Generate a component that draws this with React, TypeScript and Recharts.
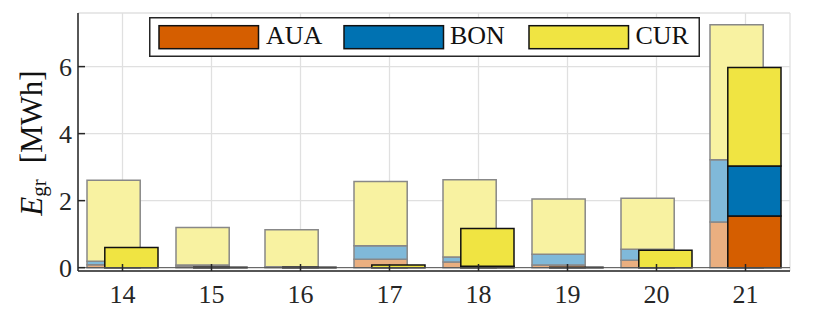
import React from 'react';
import { BarChart, Bar, XAxis, YAxis, CartesianGrid, Legend, ReferenceLine } from 'recharts';

const categories = ['14', '15', '16', '17', '18', '19', '20', '21'];
const seriesNames = ['AUA', 'BON', 'CUR'];
const seriesColors = ['#D55E00', '#0072B2', '#F0E442'];
const fadedColors = ['#EAAF80', '#80B9D9', '#F8F2A1'];

// wide, faded (background) stack
const fadedAUA = [0.09, 0.05, 0.01, 0.25, 0.17, 0.08, 0.22, 1.36];
const fadedBON = [0.1, 0.03, 0.02, 0.4, 0.15, 0.32, 0.33, 1.86];
const fadedCUR = [2.42, 1.12, 1.1, 1.92, 2.3, 1.65, 1.52, 4.03];
// front (saturated) stack
const brightAUA = [0, 0, 0, 0, 0.02, 0, 0, 1.54];
const brightBON = [0, 0, 0, 0, 0.02, 0, 0, 1.49];
const brightCUR = [0.6, 0.01, 0.01, 0.08, 1.13, 0.01, 0.52, 2.94];

const yTicks = [0, 2, 4, 6];
const yDomain = [-0.1, 7.6];

const data = categories.map((c, i) => ({
  cat: c,
  fAUA: fadedAUA[i],
  fBON: fadedBON[i],
  fCUR: fadedCUR[i],
  bAUA: brightAUA[i],
  bBON: brightBON[i],
  bCUR: brightCUR[i],
}));

const FONT = "'Liberation Serif', 'Times New Roman', serif";
const AX = '#262626';

const LegendBox = () => {
  const swX = [10, 195, 380];
  const txX = [117, 301, 486.5];
  return (
    <svg width={552} height={41} style={{ display: 'block' }}>
      <rect x={0.75} y={0.75} width={549.5} height={38.5} fill="#fff" stroke={AX} strokeWidth={1.5} />
      {seriesNames.map((n, i) => (
        <g key={n}>
          <rect x={swX[i]} y={8.7} width={99.5} height={23} fill={seriesColors[i]} stroke="#111" strokeWidth={1.5} />
          <text x={txX[i]} y={26.7} style={{ fontFamily: FONT, fontSize: 26 }} fill="#111">
            {n}
          </text>
        </g>
      ))}
    </svg>
  );
};

const YLabel = () => (
  <text
    transform="rotate(-90, 42, 143)"
    x={42}
    y={143}
    textAnchor="middle"
    style={{ fontFamily: FONT, fontSize: 31 }}
    fill="#111"
  >
    <tspan fontStyle="italic">E</tspan>
    <tspan style={{ fontSize: 21 }} dy={4}>gr</tspan>
    <tspan dy={-4} dx={16}>[MWh]</tspan>
  </text>
);

const XTick = (props: any) => {
  const { x, y, payload } = props;
  return (
    <text x={x} y={y + 18.5} textAnchor="middle" style={{ fontFamily: FONT, fontSize: 26 }} fill={AX}>
      {payload.value}
    </text>
  );
};

const YTick = (props: any) => {
  const { x, y, payload } = props;
  return (
    <text x={x} y={y + 9} textAnchor="end" style={{ fontFamily: FONT, fontSize: 26 }} fill={AX}>
      {payload.value}
    </text>
  );
};

const EmptyTick = () => <g />;

export default function App() {
  return (
    <div style={{ position: 'absolute', left: 0, top: 0 }}>
      <BarChart
        width={830}
        height={326}
        data={data}
        margin={{ top: 13, right: 40, bottom: 15, left: 0 }}
        barSize={53.2}
        barGap={-35.4}
      >
        <CartesianGrid stroke="#e0e0e0" strokeWidth={1.3} />
        <XAxis
          dataKey="cat"
          height={40}
          stroke={AX}
          strokeWidth={1.5}
          tickSize={-7}
          tickMargin={20}
          tick={<XTick />}
        />
        <XAxis
          xAxisId="top"
          dataKey="cat"
          orientation="top"
          height={0}
          stroke={AX}
          strokeWidth={1.5}
          tickSize={-7}
          tick={<EmptyTick />}
        />
        <YAxis
          width={78}
          type="number"
          domain={yDomain}
          ticks={yTicks}
          allowDataOverflow
          stroke={AX}
          strokeWidth={1.5}
          tickSize={-7}
          tickMargin={13}
          tick={<YTick />}
          label={<YLabel />}
        />
        <YAxis
          yAxisId="right"
          orientation="right"
          width={0}
          type="number"
          domain={yDomain}
          ticks={yTicks}
          allowDataOverflow
          stroke={AX}
          strokeWidth={1.5}
          tickSize={-7}
          tick={<EmptyTick />}
        />
        <Legend
          layout="horizontal"
          verticalAlign="middle"
          align="center"
          wrapperStyle={{ left: 149, top: 17, width: 552, height: 41 }}
          content={() => <LegendBox />}
        />
        <ReferenceLine y={0} stroke="#555" strokeWidth={1} />
        <Bar dataKey="fAUA" stackId="f" fill={fadedColors[0]} stroke="#888" strokeWidth={1.5} isAnimationActive={false} />
        <Bar dataKey="fBON" stackId="f" fill={fadedColors[1]} stroke="#888" strokeWidth={1.5} isAnimationActive={false} />
        <Bar dataKey="fCUR" stackId="f" fill={fadedColors[2]} stroke="#888" strokeWidth={1.5} isAnimationActive={false} />
        <Bar dataKey="bAUA" stackId="b" fill={seriesColors[0]} stroke="#111" strokeWidth={1.5} isAnimationActive={false} />
        <Bar dataKey="bBON" stackId="b" fill={seriesColors[1]} stroke="#111" strokeWidth={1.5} isAnimationActive={false} />
        <Bar dataKey="bCUR" stackId="b" fill={seriesColors[2]} stroke="#111" strokeWidth={1.5} isAnimationActive={false} />
      </BarChart>
    </div>
  );
}
